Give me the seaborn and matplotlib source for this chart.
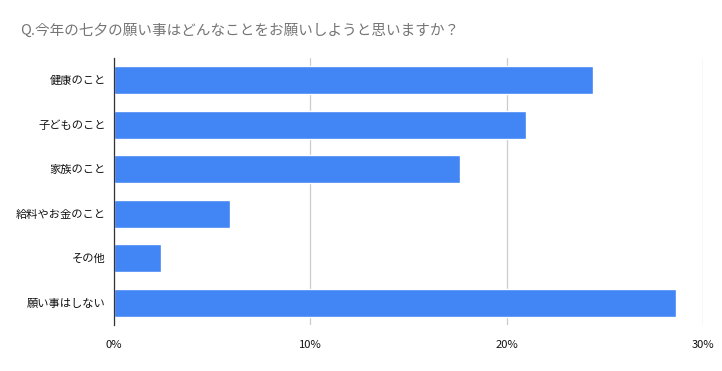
import matplotlib
matplotlib.use("Agg")
import matplotlib.pyplot as plt
import seaborn as sns
import pandas as pd
from matplotlib.ticker import FuncFormatter

# data
categories = ["健康のこと", "子どものこと", "家族のこと", "給料やお金のこと", "その他", "願い事はしない"]
shares = [24.4, 21.0, 17.6, 5.9, 2.4, 28.6]
x_ticks = [0, 10, 20, 30]
title = "Q.今年の七夕の願い事はどんなことをお願いしようと思いますか？"

df = pd.DataFrame({"category": categories, "share": shares})

sns.set_theme(style="white")
plt.rcParams["font.family"] = ["Noto Sans CJK JP", "DejaVu Sans"]

fig = plt.figure(figsize=(7.22, 3.71), dpi=100)
ax = fig.add_axes([0.158, 0.124, 0.816, 0.72])

sns.barplot(data=df, x="share", y="category", color="#4285F4", saturation=1,
            width=0.63, ax=ax, zorder=3)

ax.set_xlim(0, 30)
ax.set_xticks(x_ticks)
ax.xaxis.set_major_formatter(FuncFormatter(lambda v, _: f"{v:.0f}%"))
ax.grid(axis="x", color="#cccccc", linewidth=0.9, zorder=0)
ax.set_xlabel("")
ax.set_ylabel("")

for side in ["top", "right", "bottom"]:
    ax.spines[side].set_visible(False)
ax.spines["left"].set_color("#333333")
ax.spines["left"].set_linewidth(0.9)
ax.spines["left"].set_zorder(4)

ax.tick_params(axis="y", length=0, pad=6, labelsize=8.1, labelcolor="#111111")
ax.tick_params(axis="x", length=0, pad=11, labelsize=8.1, labelcolor="#111111")

fig.text(0.028, 0.918, title, fontsize=10.5, color="#757575", ha="left", va="center")

fig.savefig("out.png", dpi=100, facecolor="white")
